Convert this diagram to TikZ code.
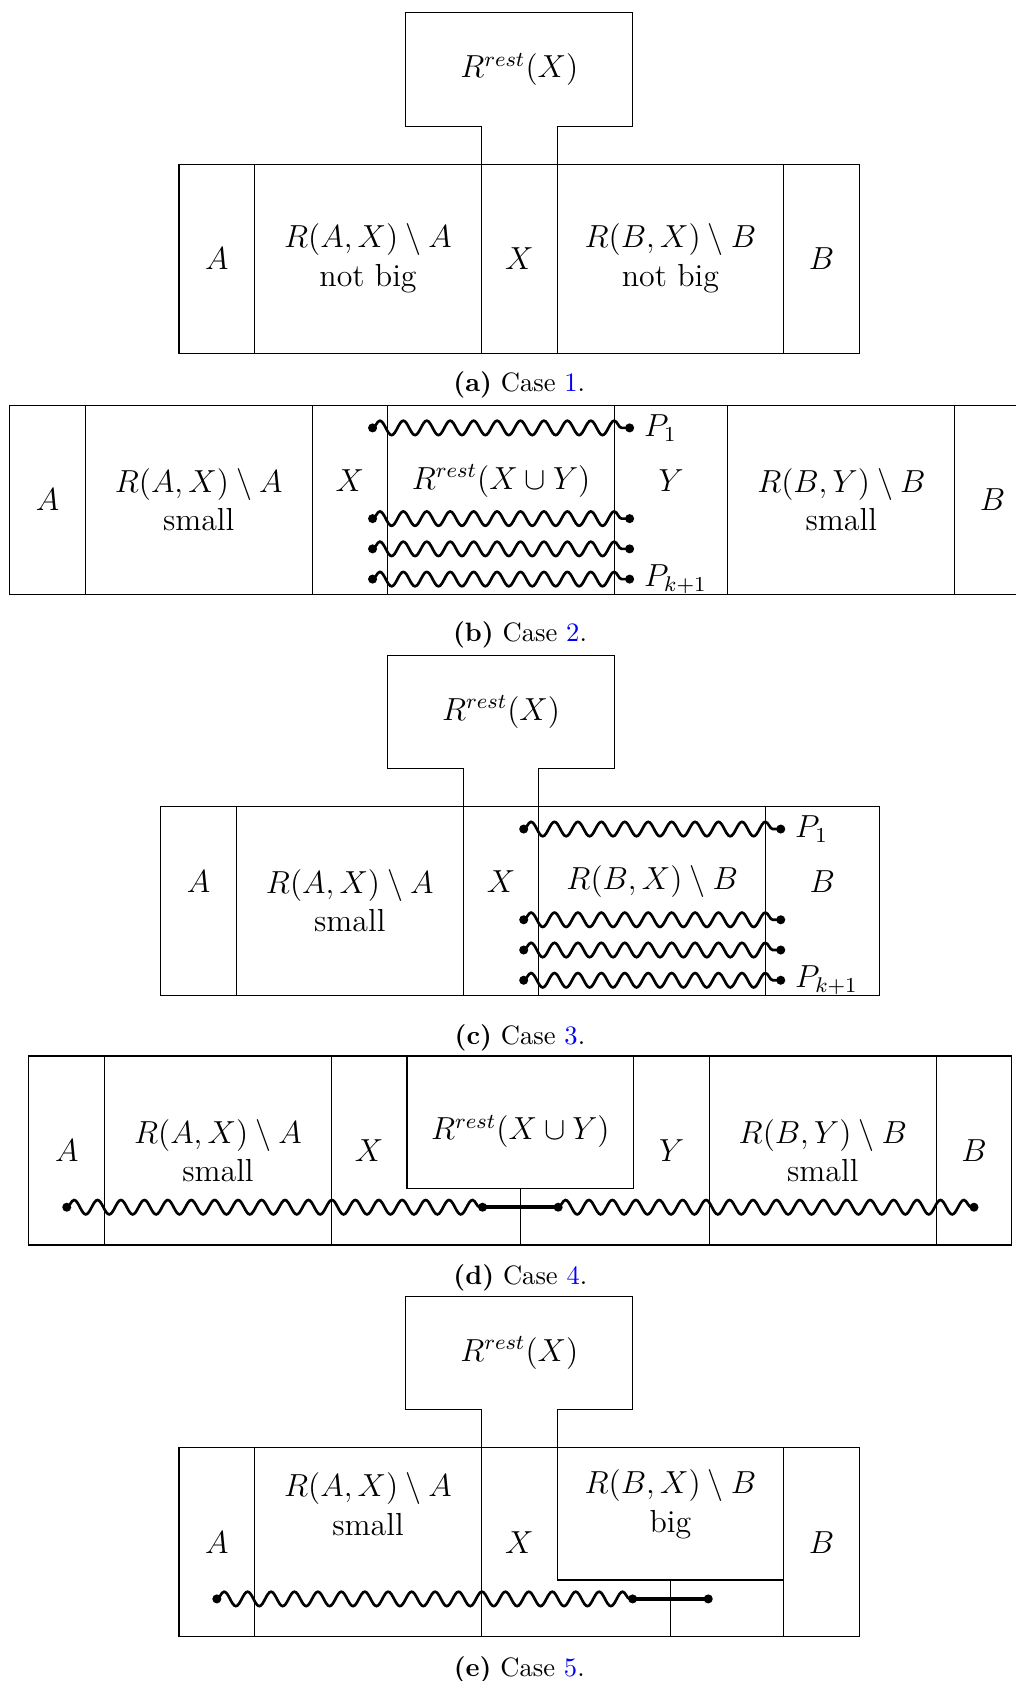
\documentclass[tikz,border=0pt]{standalone}
\usepackage{amsmath}
\usepackage{tikz}
\usetikzlibrary{positioning, arrows.meta, decorations.pathmorphing}
\tikzset{
    frame/.style={
        draw=black,
        line width=0.4pt
    },
    txt/.style={
        font=\fontsize{12}{14.5}\selectfont,
        align=center
    },
    dot/.style={
        circle,
        fill=black,
        inner sep=0pt,
        minimum size=3.4pt
    },
    walk/.style={
        draw,
        line width=1pt,
        decorate,
        decoration={snake, amplitude=0.95mm, segment length=3.1mm}
    },
    bridge/.style={
        draw,
        line width=1.3pt
    },
    subcap/.style={
        font=\fontsize{10}{12}\selectfont,
        anchor=base
    }
}
\newcommand{\casecap}[2]{\textbf{(#1)}\ Case \textcolor{blue}{#2}.}

\begin{document}
\begin{tikzpicture}
    \useasboundingbox (0,0) rectangle (13.426,-22.235);

    % Case 1
    \begin{scope}[shift={(2.368,-4.67)}]
        \draw [frame] (0,0) rectangle (9,2.5);
        \foreach \x in {1,4,5,8}
            \draw [frame] (\x,0) -- (\x,2.5);
        \draw [frame] (4,2.5) -- (4,3) -- (3,3) -- (3,4.5) -- (6,4.5) -- (6,3) -- (5,3) -- (5,2.5);

        \node (aRest) [txt] at (4.5,3.75) {$R^{rest}(X)$};
        \node (aA) [txt] at (0.5,1.25) {$A$};
        \node (aRAX) [txt] at (2.5,1.25) {$R(A,X)\setminus A$\\not big};
        \node (aX) [txt] at (4.5,1.25) {$X$};
        \node (aRBX) [txt] at (6.5,1.25) {$R(B,X)\setminus B$\\not big};
        \node (aB) [txt] at (8.5,1.25) {$B$};
        \node (aCap) [subcap] at (4.5,-0.51) {\casecap{a}{1}};
    \end{scope}

    % Case 2
    \begin{scope}[shift={(0.128,-7.86)}]
        \draw [frame] (0,0) rectangle (14,2.5);
        \foreach \x in {1,4,5,8,9.5,12.5}
            \draw [frame] (\x,0) -- (\x,2.5);

        \node (bA) [txt] at (0.5,1.25) {$A$};
        \node (bRAX) [txt] at (2.5,1.25) {$R(A,X)\setminus A$\\small};
        \node (bX) [txt] at (4.5,1.5) {$X$};
        \node (bRest) [txt] at (6.5,1.5) {$R^{rest}(X\cup Y)$};
        \node (bY) [txt] at (8.75,1.5) {$Y$};
        \node (bRBY) [txt] at (11,1.25) {$R(B,Y)\setminus B$\\small};
        \node (bB) [txt] at (13,1.25) {$B$};

        % paths through R^rest
        \foreach \n/\y in {1/2.2, 2/1.0, 3/0.6, 4/0.2} {
            \node (b\n s) [dot] at (4.8,\y) {};
            \node (b\n e) [dot] at (8.2,\y) {};
            \path (b\n s.center) edge [walk] (b\n e.center);
        }
        \node (bP1) [txt, right=0pt of b1e] {$P_1$};
        \node (bPk) [txt, right=0pt of b4e] {$P_{k+1}$};
        \node (bCap) [subcap] at (6.75,-0.63) {\casecap{b}{2}};
    \end{scope}

    % Case 3
    \begin{scope}[shift={(2.127,-13.166)}]
        \draw [frame] (0,0) rectangle (9.5,2.5);
        \foreach \x in {1,4,5,8}
            \draw [frame] (\x,0) -- (\x,2.5);
        \draw [frame] (4,2.5) -- (4,3) -- (3,3) -- (3,4.5) -- (6,4.5) -- (6,3) -- (5,3) -- (5,2.5);

        \node (cRest) [txt] at (4.5,3.75) {$R^{rest}(X)$};
        \node (cA) [txt] at (0.5,1.5) {$A$};
        \node (cRAX) [txt] at (2.5,1.25) {$R(A,X)\setminus A$\\small};
        \node (cX) [txt] at (4.5,1.5) {$X$};
        \node (cRBX) [txt] at (6.5,1.5) {$R(B,X)\setminus B$};
        \node (cB) [txt] at (8.75,1.5) {$B$};

        % paths through R(B,X)
        \foreach \n/\y in {1/2.2, 2/1.0, 3/0.6, 4/0.2} {
            \node (c\n s) [dot] at (4.8,\y) {};
            \node (c\n e) [dot] at (8.2,\y) {};
            \path (c\n s.center) edge [walk] (c\n e.center);
        }
        \node (cP1) [txt, right=0pt of c1e] {$P_1$};
        \node (cPk) [txt, right=0pt of c4e] {$P_{k+1}$};
        \node (cCap) [subcap] at (4.75,-0.645) {\casecap{c}{3}};
    \end{scope}

    % Case 4
    \begin{scope}[shift={(0.383,-16.468)}]
        \draw [frame] (0,0) rectangle (13,2.5);
        \foreach \x in {1,4,9,12}
            \draw [frame] (\x,0) -- (\x,2.5);
        \draw [frame] (5,2.5) -- (5,0.75) -- (8,0.75) -- (8,2.5);
        \draw [frame] (6.5,0.75) -- (6.5,0);

        \node (dA) [txt] at (0.5,1.25) {$A$};
        \node (dRAX) [txt] at (2.5,1.25) {$R(A,X)\setminus A$\\small};
        \node (dX) [txt] at (4.5,1.25) {$X$};
        \node (dRest) [txt] at (6.5,1.5) {$R^{rest}(X\cup Y)$};
        \node (dY) [txt] at (8.5,1.25) {$Y$};
        \node (dRBY) [txt] at (10.5,1.25) {$R(B,Y)\setminus B$\\small};
        \node (dB) [txt] at (12.5,1.25) {$B$};

        \node (dS) [dot] at (0.5,0.5) {};
        \node (dL) [dot] at (6,0.5) {};
        \node (dR) [dot] at (7,0.5) {};
        \node (dT) [dot] at (12.5,0.5) {};
        \path (dS.center) edge [walk] (dL.center)
              (dL.center) edge [bridge] (dR.center)
              (dR.center) edge [walk] (dT.center);
        \node (dCap) [subcap] at (6.5,-0.52) {\casecap{d}{4}};
    \end{scope}

    % Case 5
    \begin{scope}[shift={(2.368,-21.649)}]
        \draw [frame] (0,0) rectangle (9,2.5);
        \foreach \x in {1,4,8}
            \draw [frame] (\x,0) -- (\x,2.5);
        \draw [frame] (4,2.5) -- (4,3) -- (3,3) -- (3,4.5) -- (6,4.5) -- (6,3) -- (5,3) -- (5,2.5);
        \draw [frame] (5,2.5) -- (5,0.75) -- (8,0.75);
        \draw [frame] (6.5,0.75) -- (6.5,0);

        \node (eRest) [txt] at (4.5,3.75) {$R^{rest}(X)$};
        \node (eA) [txt] at (0.5,1.25) {$A$};
        \node (eRAX) [txt] at (2.5,1.75) {$R(A,X)\setminus A$\\small};
        \node (eX) [txt] at (4.5,1.25) {$X$};
        \node (eRBX) [txt] at (6.5,1.75) {$R(B,X)\setminus B$\\big};
        \node (eB) [txt] at (8.5,1.25) {$B$};

        \node (eS) [dot] at (0.5,0.5) {};
        \node (eL) [dot] at (6,0.5) {};
        \node (eR) [dot] at (7,0.5) {};
        \path (eS.center) edge [walk] (eL.center)
              (eL.center) edge [bridge] (eR.center);
        \node (eCap) [subcap] at (4.5,-0.52) {\casecap{e}{5}};
    \end{scope}
\end{tikzpicture}
\end{document}
